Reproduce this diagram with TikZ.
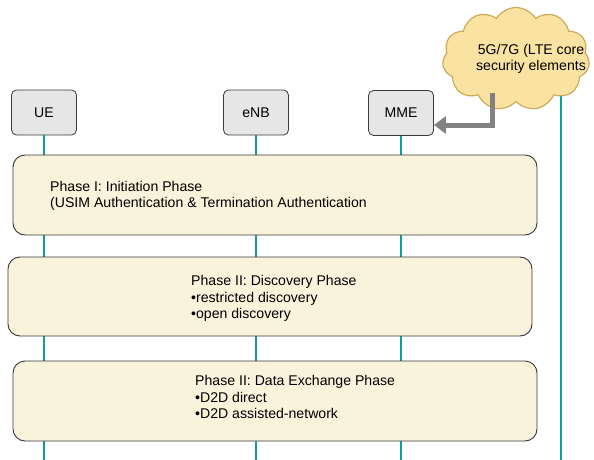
\documentclass[tikz,border=0pt]{standalone}
\usepackage{fontspec}
\setmainfont{Liberation Sans}
\usetikzlibrary{shapes.symbols,arrows.meta}

\definecolor{lifeteal}{RGB}{18,156,156}
\definecolor{phasefill}{RGB}{251,242,220}
\definecolor{phaseedge}{RGB}{55,55,55}
\definecolor{actorfill}{RGB}{230,230,230}
\definecolor{actoredge}{RGB}{60,60,60}
\definecolor{cloudfill}{RGB}{250,227,162}
\definecolor{cloudedge}{RGB}{206,170,88}
\definecolor{feedgray}{RGB}{130,130,130}

\tikzset{
  labelfont/.style={font=\fontsize{14.1}{16.3}\selectfont},
  actor/.style={draw=actoredge, fill=actorfill, rounded corners=5pt, line width=0.8pt,
    minimum width=65pt, minimum height=45pt, inner sep=0pt, labelfont},
  phasebox/.style={draw=phaseedge, fill=phasefill, rounded corners=12pt, line width=0.9pt,
    minimum width=524pt, minimum height=80pt, inner sep=0pt},
  phasetext/.style={anchor=north west, inner sep=0pt, align=left, labelfont},
  lifeline/.style={draw=lifeteal, line width=2pt},
  corecloud/.style={cloud, cloud puffs=11, cloud puff arc=115, aspect=1.45,
    draw=cloudedge, fill=cloudfill, line width=1.2pt,
    minimum width=147pt, minimum height=103pt, inner sep=0pt},
  feedarrow/.style={draw=feedgray, line width=5pt,
    -{Triangle[length=12pt,width=17pt]}},
}

\begin{document}
\begin{tikzpicture}[x=1pt,y=-1pt]
  \useasboundingbox (0,0) rectangle (594,460);

  % bottom reference for the lifelines
  \coordinate (bottom) at (0,460);

  % actors
  \node[actor] (ue)  at (44,112.5)  {UE};
  \node[actor] (enb) at (256,112.5) {eNB};
  \node[actor] (mme) at (401,113)   {MME};

  % lifelines (drawn behind the phase boxes)
  \draw[lifeline] (ue.south)  -- (ue.south |- bottom);
  \draw[lifeline] (enb.south) -- (enb.south |- bottom);
  \draw[lifeline] (mme.south) -- (mme.south |- bottom);
  \coordinate (coretop) at (561,95);
  \draw[lifeline] (coretop) -- (coretop |- bottom);

  % core network cloud
  \node[corecloud] (core) at (516,59) {};
  \node[labelfont, align=center, inner sep=0pt] (coretext) at (531,59)
    {5G/7G (LTE core\\security elements};

  % link from the core to the MME
  \coordinate (feed) at (492,93);
  \draw[feedarrow] (feed) |- ([yshift=-12pt]mme.east);

  % phases
  \node[phasebox] (ph1) at (275,195)   {};
  \node[phasebox, minimum height=79pt] (ph2) at (270,296.5) {};
  \node[phasebox] (ph3) at (275,401)   {};

  \node[phasetext] (ph1text) at (50,180.8)
    {Phase I: Initiation Phase\\(USIM Authentication \& Termination Authentication};
  \node[phasetext] (ph2text) at (191,275.4)
    {Phase II: Discovery Phase\\•restricted discovery\\•open discovery};
  \node[phasetext] (ph3text) at (195,375.4)
    {Phase II: Data Exchange Phase\\•D2D direct\\•D2D assisted-network};
\end{tikzpicture}
\end{document}
